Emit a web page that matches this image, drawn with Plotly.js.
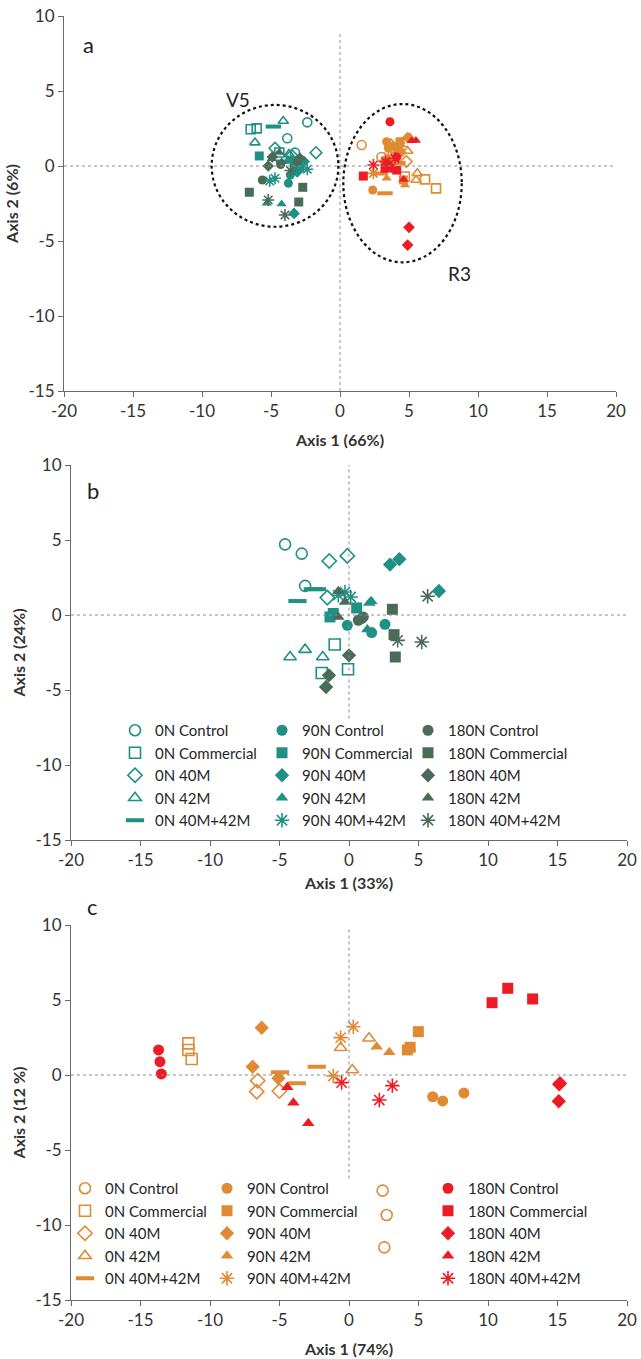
<!DOCTYPE html>
<html><head><meta charset="utf-8">
<script src="https://cdn.plot.ly/plotly-3.0.1.min.js"></script>
<style>html,body{margin:0;padding:0;background:#fff}#chart{width:641px;height:1359px}</style>
</head><body><div id="chart"></div>
<script>
// ---------- categories ----------
const nitrogen = ['0N', '90N', '180N'];
const treatments = ['Control', 'Commercial', '40M', '42M', '40M+42M'];
const xTicks = [-20, -15, -10, -5, 0, 5, 10, 15, 20];
const xTickText = ['-20', '-15', '-10', '-5', '0', '5', '10', '15', '20'];
const yTicks = [-15, -10, -5, 0, 5, 10];
const yTickText = ['-15', '-10', '-5', '0', '5', '10'];

// ---------- panel a : V5 samples [axis1, axis2] ----------
const aV5_0N_Control     = [[-2.37, 2.91], [-3.82, 1.85], [-3.26, 0.89]];
const aV5_0N_Commercial  = [[-6.47, 2.45], [-6.04, 2.51], [-4.40, 0.90]];
const aV5_0N_40M         = [[-4.71, 1.18], [-1.74, 0.89], [-3.50, 0.70]];
const aV5_0N_42M         = [[-4.11, 3.00], [-6.16, 1.56], [-3.70, 0.80]];
const aV5_0N_40M42M      = [[-4.83, 2.63], [-4.10, 0.30], [-3.40, 0.50]];
const aV5_90N_Control    = [[-3.74, -1.15], [-3.60, -0.60], [-3.30, -0.30]];
const aV5_90N_Commercial = [[-5.85, 0.67], [-2.90, -0.09], [-3.30, 0.20]];
const aV5_90N_40M        = [[-3.33, -3.16], [-3.10, -0.40], [-2.60, 0.30]];
const aV5_90N_42M        = [[-5.31, -2.49], [-4.23, -2.53], [-3.60, 0.30]];
const aV5_90N_40M42M     = [[-4.71, -0.82], [-2.37, -0.22], [-5.10, -1.00]];
const aV5_180N_Control   = [[-5.63, -0.93], [-4.30, 0.10], [-3.10, 0.30]];
const aV5_180N_Commercial= [[-6.57, -1.75], [-2.70, -1.42], [-2.99, -2.40]];
const aV5_180N_40M       = [[-5.20, 0.00], [-2.90, 0.51], [-4.90, 0.60]];
const aV5_180N_42M       = [[-4.95, 0.49], [-4.23, 0.29], [-4.40, 0.90]];
const aV5_180N_40M42M    = [[-5.20, -2.27], [-3.99, -3.27], [-3.60, -0.30]];

// ---------- panel a : R3 samples ----------
const aR3_0N_Control     = [[1.57, 1.40], [3.00, 0.60], [3.80, 1.20]];
const aR3_0N_Commercial  = [[6.16, -0.89], [6.96, -1.49], [4.70, -0.70]];
const aR3_0N_40M         = [[4.30, 0.90], [3.70, 1.40], [4.80, 0.30]];
const aR3_0N_42M         = [[5.60, -0.49], [5.51, -0.93], [4.90, 1.00]];
const aR3_0N_40M42M      = [[3.26, -1.82], [2.90, -0.50], [4.20, 0.20]];
const aR3_90N_Control    = [[2.37, -1.60], [3.38, 1.62], [3.50, 1.20]];
const aR3_90N_Commercial = [[4.35, 1.62], [4.59, -0.93], [4.00, 1.30]];
const aR3_90N_40M        = [[4.90, 1.90], [4.40, 0.90], [3.20, 0.30]];
const aR3_90N_42M        = [[5.07, 1.95], [3.38, -0.82], [4.71, -1.27]];
const aR3_90N_40M42M     = [[3.50, 0.62], [2.42, -0.49], [4.40, 1.30]];
const aR3_180N_Control   = [[3.62, 2.95], [3.40, 0.20], [4.10, 0.60]];
const aR3_180N_Commercial= [[1.69, -0.67], [3.26, -0.15], [4.11, -0.27]];
const aR3_180N_40M       = [[5.00, -4.09], [4.90, -5.27], [3.70, -0.10]];
const aR3_180N_42M       = [[5.19, 1.69], [5.50, 1.70], [4.60, -0.90]];
const aR3_180N_40M42M    = [[2.42, 0.07], [3.99, 0.51], [3.30, 0.30]];

// ---------- panel b : V5 ----------
const b_0N_Control       = [[-4.60, 4.71], [-3.40, 4.09], [-3.16, 1.94]];
const b_0N_Commercial    = [[-1.03, -1.97], [-1.96, -3.87], [-0.07, -3.62]];
const b_0N_40M           = [[-1.42, 3.60], [-0.12, 3.94], [-1.56, 1.16]];
const b_0N_42M           = [[-4.24, -2.80], [-3.16, -2.31], [-1.89, -2.80]];
const b_0N_40M42M        = [[-2.60, 1.72], [-2.30, 1.72], [-3.71, 0.93]];
const b_90N_Control      = [[-0.12, -0.69], [2.59, -0.62], [1.63, -1.17]];
const b_90N_Commercial   = [[0.55, 0.47], [-1.37, -0.13], [-1.13, 0.10]];
const b_90N_40M          = [[2.95, 3.36], [3.62, 3.72], [6.47, 1.60]];
const b_90N_42M          = [[1.46, 0.80], [1.32, -0.97], [1.60, 0.91]];
const b_90N_40M42M       = [[-0.29, 1.53], [-0.77, 1.32], [0.12, 1.20]];
const b_180N_Control     = [[0.67, -0.35], [1.03, -0.13], [0.90, -0.24]];
const b_180N_Commercial  = [[3.12, 0.38], [3.24, -1.31], [3.33, -2.80]];
const b_180N_40M         = [[0.00, -2.69], [-1.44, -4.02], [-1.65, -4.80]];
const b_180N_42M         = [[-0.77, 1.58], [-0.29, 0.87], [-0.77, -0.13]];
const b_180N_40M42M      = [[5.66, 1.25], [3.50, -1.69], [5.23, -1.80]];

// ---------- panel c : R3 ----------
const c_0N_Control       = [[2.42, -7.71], [2.71, -9.33], [2.54, -11.49]];
const c_0N_Commercial    = [[-11.56, 2.11], [-11.56, 1.67], [-11.32, 1.07]];
const c_0N_40M           = [[-6.57, -0.38], [-6.64, -1.11], [-5.01, -1.07]];
const c_0N_42M           = [[-0.60, 1.82], [0.24, 0.33], [1.44, 2.45]];
const c_0N_40M42M        = [[-4.96, 0.18], [-3.76, -0.55], [-2.32, 0.55]];
const c_90N_Control      = [[6.02, -1.45], [6.74, -1.73], [8.27, -1.20]];
const c_90N_Commercial   = [[4.99, 2.89], [4.20, 1.67], [4.40, 1.85]];
const c_90N_40M          = [[-6.28, 3.15], [-6.93, 0.55], [-5.08, -0.22]];
const c_90N_42M          = [[1.99, 1.89], [2.90, 1.51], [4.39, 1.78]];
const c_90N_40M42M       = [[-1.13, -0.07], [-0.60, 2.49], [0.31, 3.22]];
const c_180N_Control     = [[-13.70, 1.67], [-13.60, 0.89], [-13.50, 0.07]];
const c_180N_Commercial  = [[10.29, 4.82], [11.42, 5.78], [13.21, 5.07]];
const c_180N_40M         = [[15.18, -0.55], [15.09, -1.75], [15.12, -0.62]];
const c_180N_42M         = [[-4.44, -0.82], [-4.00, -1.85], [-2.93, -3.22]];
const c_180N_40M42M      = [[-0.53, -0.51], [2.18, -1.67], [3.12, -0.71]];

// order: nitrogen x treatment
const aV5 = [aV5_0N_Control, aV5_0N_Commercial, aV5_0N_40M, aV5_0N_42M, aV5_0N_40M42M,
             aV5_90N_Control, aV5_90N_Commercial, aV5_90N_40M, aV5_90N_42M, aV5_90N_40M42M,
             aV5_180N_Control, aV5_180N_Commercial, aV5_180N_40M, aV5_180N_42M, aV5_180N_40M42M];
const aR3 = [aR3_0N_Control, aR3_0N_Commercial, aR3_0N_40M, aR3_0N_42M, aR3_0N_40M42M,
             aR3_90N_Control, aR3_90N_Commercial, aR3_90N_40M, aR3_90N_42M, aR3_90N_40M42M,
             aR3_180N_Control, aR3_180N_Commercial, aR3_180N_40M, aR3_180N_42M, aR3_180N_40M42M];
const bV5 = [b_0N_Control, b_0N_Commercial, b_0N_40M, b_0N_42M, b_0N_40M42M,
             b_90N_Control, b_90N_Commercial, b_90N_40M, b_90N_42M, b_90N_40M42M,
             b_180N_Control, b_180N_Commercial, b_180N_40M, b_180N_42M, b_180N_40M42M];
const cR3 = [c_0N_Control, c_0N_Commercial, c_0N_40M, c_0N_42M, c_0N_40M42M,
             c_90N_Control, c_90N_Commercial, c_90N_40M, c_90N_42M, c_90N_40M42M,
             c_180N_Control, c_180N_Commercial, c_180N_40M, c_180N_42M, c_180N_40M42M];

// ---------- styles ----------
const TEAL = '#1f9184', DARK = '#4a6b58', ORANGE = '#e08a33', RED = '#ed1c24';
const paletteV5 = [TEAL, TEAL, DARK];
const paletteR3 = [ORANGE, ORANGE, RED];
const baseSymbol = ['circle', 'square', 'diamond', 'triangle-up', null];

function markerFor(ni, ti, color, size) {
  if (ti === 4) {
    if (ni === 0) return {symbol: 'line-ew-open', size: size + 2, color: color, line: {color: color, width: 4}};
    return {symbol: 'asterisk-open', size: size + 1, color: color, line: {color: color, width: 1.6}};
  }
  if (ni === 0) return {symbol: baseSymbol[ti] + '-open', size: size, color: color, line: {color: color, width: 1.6}};
  return {symbol: baseSymbol[ti], size: size, color: color, line: {width: 0}};
}

const traces = [];
function addSeries(sets, palette, xa, ya, size, legendIds) {
  sets.forEach((pts, k) => {
    const ni = Math.floor(k / 5), ti = k % 5;
    const t = {
      type: 'scatter', mode: 'markers',
      x: pts.map(p => p[0]), y: pts.map(p => p[1]),
      xaxis: xa, yaxis: ya,
      name: nitrogen[ni] + ' ' + treatments[ti],
      marker: markerFor(ni, ti, palette[ni], size),
      showlegend: !!legendIds,
      hoverinfo: 'x+y+name'
    };
    if (legendIds) t.legend = legendIds[ni];
    traces.push(t);
  });
}
addSeries(aV5, paletteV5, 'x', 'y', 9, null);
addSeries(aR3, paletteR3, 'x', 'y', 9, null);
addSeries(bV5, paletteV5, 'x2', 'y2', 11, ['legend', 'legend2', 'legend3']);
addSeries(cR3, paletteR3, 'x3', 'y3', 11, ['legend4', 'legend5', 'legend6']);

const FONT = 'Lato, "Open Sans", sans-serif';
const TXT = '#333333';
function xAxis(domain, anchor, title, standoff) {
  return {domain: domain, anchor: anchor, range: [-20, 20], tickvals: xTicks, ticktext: xTickText, ticks: 'outside', ticklen: 5,
    tickcolor: '#6a6a6a', showline: true, linecolor: '#6a6a6a', linewidth: 1, showgrid: false, zeroline: false,
    tickfont: {family: FONT, size: 17, color: TXT}, fixedrange: true,
    title: {text: title, font: {family: FONT, size: 16, color: TXT, weight: 'bold'}, standoff: standoff}};
}
function yAxis(domain, anchor, title) {
  return {domain: domain, anchor: anchor, range: [-15, 10], tickvals: yTicks, ticktext: yTickText, ticks: 'outside', ticklen: 5,
    tickcolor: '#6a6a6a', showline: true, linecolor: '#6a6a6a', linewidth: 1, showgrid: false, zeroline: false,
    tickfont: {family: FONT, size: 17, color: TXT}, fixedrange: true,
    title: {text: title, font: {family: FONT, size: 16, color: TXT, weight: 'bold'}, standoff: 5}};
}
const H = 1359, W = 641;
const px = v => v / W, py = v => 1 - v / H;

function legendAt(xPix, yPix) {
  return {x: px(xPix), y: py(yPix), xanchor: 'left', yanchor: 'top', bgcolor: 'rgba(0,0,0,0)',
    font: {family: FONT, size: 15, color: '#262626'}, itemclick: false, itemdoubleclick: false, tracegroupgap: 0};
}

const dashLine = {color: '#8c8c8c', width: 1, dash: 'dot'};
const ell = {color: '#111', width: 2.2, dash: 'dot'};
function label(text, x, y, size) {
  return {text: text, xref: 'paper', yref: 'paper', x: px(x), y: py(y), xanchor: 'center', yanchor: 'middle',
    showarrow: false, font: {family: FONT, size: size, color: '#222'}};
}
const layout = {
  width: W, height: H, margin: {l: 0, r: 0, t: 0, b: 0},
  paper_bgcolor: '#fff', plot_bgcolor: 'rgba(0,0,0,0)',
  font: {family: FONT, color: TXT},
  xaxis: xAxis([px(64), px(616)], 'y', 'Axis 1 (66%)', 14),
  yaxis: yAxis([py(391), py(16)], 'x', 'Axis 2 (6%)'),
  xaxis2: xAxis([px(71), px(627)], 'y2', 'Axis 1 (33%)', 8),
  yaxis2: yAxis([py(840), py(465)], 'x2', 'Axis 2 (24%)'),
  xaxis3: xAxis([px(71), px(627)], 'y3', 'Axis 1 (74%)', 14),
  yaxis3: yAxis([py(1300), py(925)], 'x3', 'Axis 2 (12 %)'),
  legend: legendAt(115, 714), legend2: legendAt(262, 714), legend3: legendAt(408, 714),
  legend4: legendAt(65, 1172), legend5: legendAt(207, 1172), legend6: legendAt(428, 1172),
  shapes: [
    {type: 'line', xref: 'x', yref: 'y', x0: 0, x1: 0, y0: -15, y1: 8.9, line: dashLine},
    {type: 'line', xref: 'x', yref: 'y', x0: -20, x1: 20, y0: 0, y1: 0, line: dashLine},
    {type: 'circle', xref: 'x', yref: 'y', x0: -9.3, x1: -0.12, y0: -4.05, y1: 4.07, line: ell},
    {type: 'circle', xref: 'x', yref: 'y', x0: 0.24, x1: 8.82, y0: -6.42, y1: 4.13, line: ell},
    {type: 'line', xref: 'x2', yref: 'y2', x0: 0, x1: 0, y0: -6.9, y1: 10, line: dashLine},
    {type: 'line', xref: 'x2', yref: 'y2', x0: -20, x1: 20, y0: 0, y1: 0, line: dashLine},
    {type: 'line', xref: 'x3', yref: 'y3', x0: 0, x1: 0, y0: -6.9, y1: 9.7, line: dashLine},
    {type: 'line', xref: 'x3', yref: 'y3', x0: -20, x1: 20, y0: 0, y1: 0, line: dashLine}
  ],
  annotations: [
    label('a', 88, 45, 22), label('V5', 238, 100, 19), label('R3', 459, 273, 19),
    label('b', 93, 490, 22), label('c', 92, 906, 22)
  ]
};

Plotly.newPlot('chart', traces, layout, {staticPlot: true, displayModeBar: false});
</script>
</body></html>
